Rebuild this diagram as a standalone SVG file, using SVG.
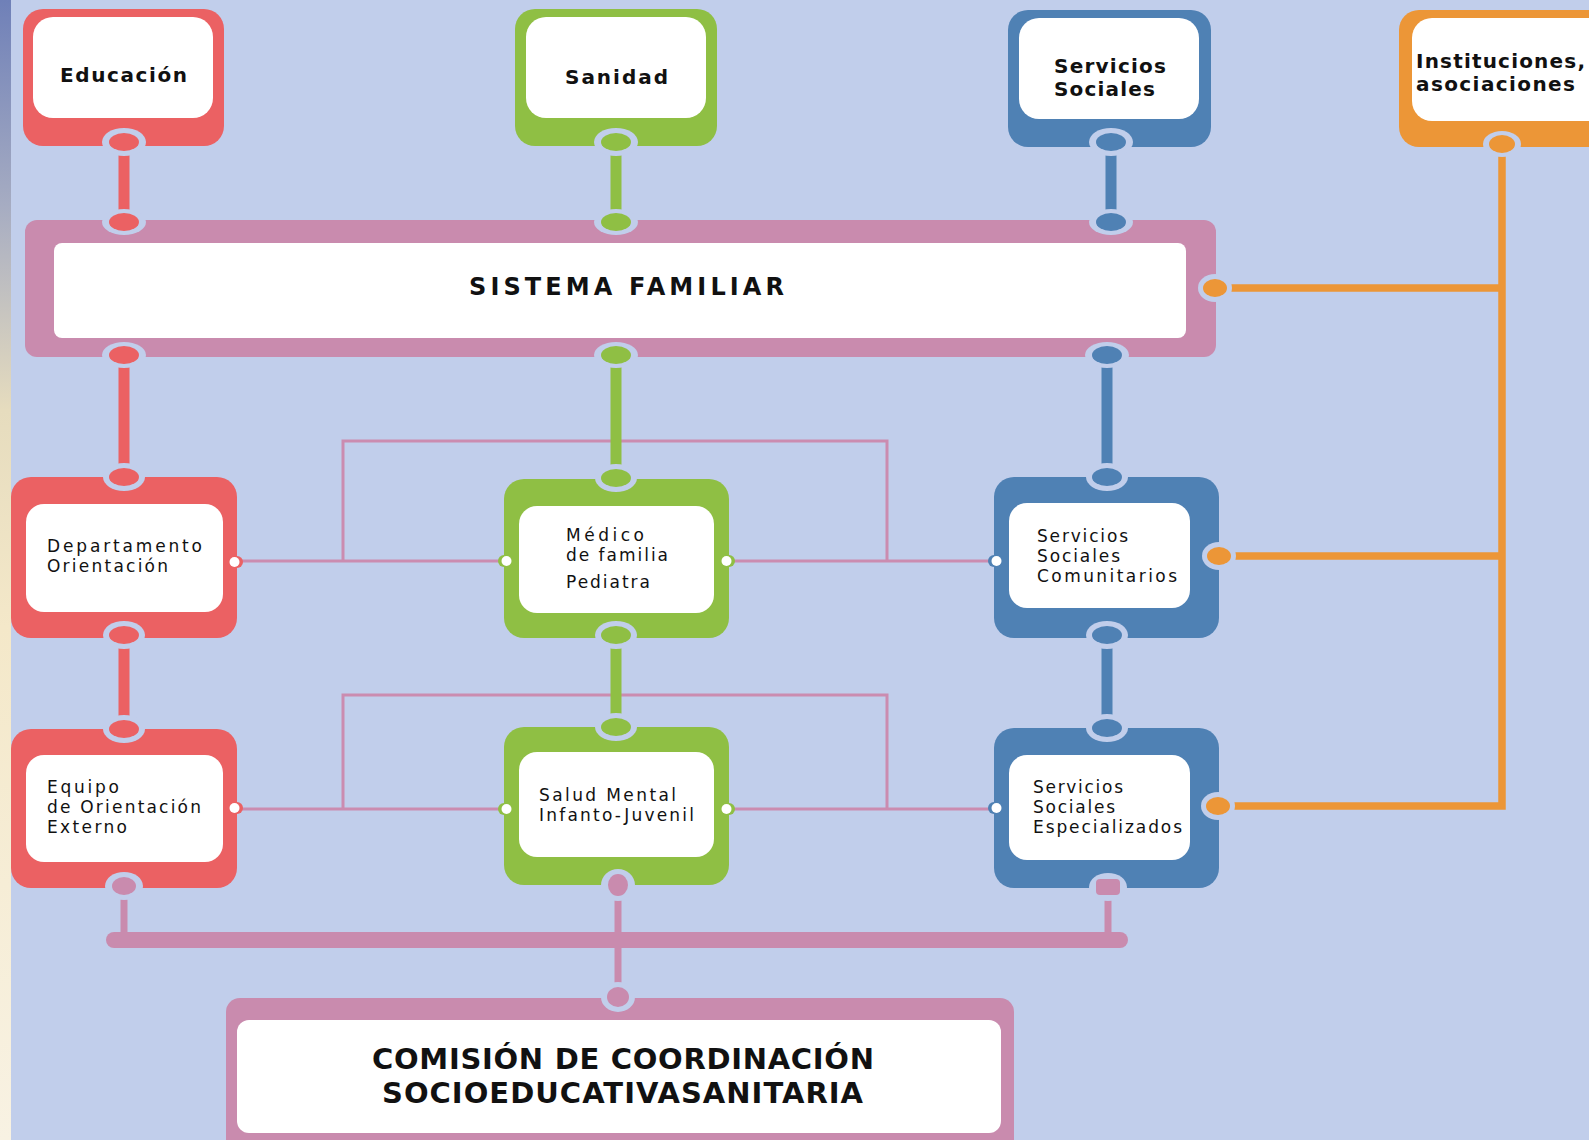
<svg xmlns="http://www.w3.org/2000/svg" width="1589" height="1140" viewBox="0 0 1589 1140">
<defs>
<linearGradient id="strip" x1="0" y1="0" x2="0" y2="1">
<stop offset="0" stop-color="#6F80B8"/>
<stop offset="0.18" stop-color="#A6ACC2"/>
<stop offset="0.36" stop-color="#E6DCBE"/>
<stop offset="0.55" stop-color="#F4E8C9"/>
<stop offset="1" stop-color="#F8F2E3"/>
</linearGradient>
<style>
.red{fill:#EB6163}.grn{fill:#8FBF44}.blu{fill:#4F81B4}.org{fill:#EC9637}.pnk{fill:#C98BAE}.wht{fill:#FFFFFF}.halo{fill:#C1CEEB}
.lr{stroke:#EB6163;stroke-width:11;fill:none}
.lg{stroke:#8FBF44;stroke-width:11;fill:none}
.lb{stroke:#4F81B4;stroke-width:11;fill:none}
.lo{stroke:#EC9637;stroke-width:7.5;fill:none}
.lp{stroke:#C98BAE;stroke-width:7;fill:none}
.thin{stroke:#CB8CB0;stroke-width:3;fill:none}
.hb{font-family:"DejaVu Sans","Liberation Sans",sans-serif;font-weight:700;font-size:20px;fill:#111111}
.hs{font-family:"DejaVu Sans","Liberation Sans",sans-serif;font-weight:700;font-size:24px;fill:#111111}
.hc{font-family:"DejaVu Sans","Liberation Sans",sans-serif;font-weight:700;font-size:29px;fill:#111111}
.tx{font-family:"DejaVu Sans","Liberation Sans",sans-serif;font-size:17px;fill:#111111}
</style>
</defs>
<rect x="0" y="0" width="1589" height="1140" class="halo"/>
<rect x="0" y="0" width="11" height="1140" fill="url(#strip)"/>

<g id="educacion">
<rect x="23" y="9" width="201" height="137" rx="20" class="red"/>
<rect x="33" y="17" width="180" height="101" rx="20" class="wht"/>
<text x="60" y="82" class="hb" textLength="127" lengthAdjust="spacing">Educación</text>
</g>
<g id="sanidad">
<rect x="515" y="9" width="202" height="137" rx="20" class="grn"/>
<rect x="526" y="17" width="180" height="101" rx="20" class="wht"/>
<text x="565" y="84" class="hb" textLength="103" lengthAdjust="spacing">Sanidad</text>
</g>
<g id="servicios-sociales">
<rect x="1008" y="10" width="203" height="137" rx="20" class="blu"/>
<rect x="1019" y="18" width="180" height="101" rx="20" class="wht"/>
<text x="1054" y="73" class="hb" textLength="112" lengthAdjust="spacing">Servicios</text>
<text x="1054" y="96" class="hb" textLength="101" lengthAdjust="spacing">Sociales</text>
</g>
<g id="instituciones">
<rect x="1399" y="10" width="215" height="137" rx="20" class="org"/>
<rect x="1412" y="18" width="200" height="103" rx="20" class="wht"/>
<text x="1416" y="68" class="hb" font-size="19" textLength="169" lengthAdjust="spacing">Instituciones,</text>
<text x="1416" y="91" class="hb" font-size="19" textLength="159" lengthAdjust="spacing">asociaciones</text>
</g>
<g id="sistema-familiar">
<rect x="25" y="220" width="1191" height="137" rx="12" class="pnk"/>
<rect x="54" y="243" width="1132" height="95" rx="8" class="wht"/>
<text x="469" y="295" class="hs" textLength="315" lengthAdjust="spacing">SISTEMA FAMILIAR</text>
</g>
<g id="departamento-orientacion">
<rect x="11" y="477" width="226" height="161" rx="20" class="red"/>
<rect x="26" y="504" width="197" height="108" rx="18" class="wht"/>
<text x="47" y="552" class="tx" textLength="155" lengthAdjust="spacing">Departamento</text>
<text x="47" y="572" class="tx" textLength="121" lengthAdjust="spacing">Orientación</text>
</g>
<g id="medico-familia">
<rect x="504" y="479" width="225" height="159" rx="20" class="grn"/>
<rect x="519" y="506" width="195" height="107" rx="18" class="wht"/>
<text x="566" y="541" class="tx" textLength="78" lengthAdjust="spacing">Médico</text>
<text x="566" y="561" class="tx" textLength="102" lengthAdjust="spacing">de familia</text>
<text x="566" y="588" class="tx" textLength="84" lengthAdjust="spacing">Pediatra</text>
</g>
<g id="ss-comunitarios">
<rect x="994" y="477" width="225" height="161" rx="20" class="blu"/>
<rect x="1009" y="503" width="181" height="105" rx="18" class="wht"/>
<text x="1037" y="542" class="tx" textLength="91" lengthAdjust="spacing">Servicios</text>
<text x="1037" y="562" class="tx" textLength="83" lengthAdjust="spacing">Sociales</text>
<text x="1037" y="582" class="tx" textLength="140" lengthAdjust="spacing">Comunitarios</text>
</g>
<g id="equipo-orientacion">
<rect x="11" y="729" width="226" height="159" rx="20" class="red"/>
<rect x="26" y="755" width="197" height="107" rx="18" class="wht"/>
<text x="47" y="793" class="tx" textLength="72" lengthAdjust="spacing">Equipo</text>
<text x="47" y="813" class="tx" textLength="154" lengthAdjust="spacing">de Orientación</text>
<text x="47" y="833" class="tx" textLength="80" lengthAdjust="spacing">Externo</text>
</g>
<g id="salud-mental">
<rect x="504" y="727" width="225" height="158" rx="20" class="grn"/>
<rect x="519" y="752" width="195" height="105" rx="18" class="wht"/>
<text x="539" y="801" class="tx" textLength="137" lengthAdjust="spacing">Salud Mental</text>
<text x="539" y="821" class="tx" textLength="155" lengthAdjust="spacing">Infanto-Juvenil</text>
</g>
<g id="ss-especializados">
<rect x="994" y="728" width="225" height="160" rx="20" class="blu"/>
<rect x="1009" y="755" width="181" height="105" rx="18" class="wht"/>
<text x="1033" y="793" class="tx" textLength="90" lengthAdjust="spacing">Servicios</text>
<text x="1033" y="813" class="tx" textLength="82" lengthAdjust="spacing">Sociales</text>
<text x="1033" y="833" class="tx" textLength="149" lengthAdjust="spacing">Especializados</text>
</g>
<g id="comision">
<rect x="226" y="998" width="788" height="160" rx="14" class="pnk"/>
<rect x="237" y="1020" width="764" height="113" rx="12" class="wht"/>
<text x="372" y="1069" class="hc" textLength="502" lengthAdjust="spacing">COMISIÓN DE COORDINACIÓN</text>
<text x="382" y="1103" class="hc" textLength="481" lengthAdjust="spacing">SOCIOEDUCATIVASANITARIA</text>
</g>

<g id="connectors">
<path class="thin" d="M237 561H504M729 561H994M343 561V441H887V561"/>
<path class="thin" d="M237 809H504M729 809H994M343 809V695H887V809"/>
<path class="lo" d="M1502 144V806H1218M1215 288H1502M1219 556H1502"/>
<path class="lr" d="M124 142V222M124 355V477M124 635V729"/>
<path class="lg" d="M616 142V222M616 355V478M616 635V727"/>
<path class="lb" d="M1111 142V222M1107 355V477M1107 635V728"/>
<path class="lp" d="M124 886V936M618 885V936M1108 887V936M618 944V998"/>
<rect x="106" y="932" width="1022" height="16" rx="8" class="pnk"/>

<g class="halo">
<ellipse cx="124" cy="142" rx="22" ry="14"/><ellipse cx="616" cy="142" rx="22" ry="14"/><ellipse cx="1111" cy="142" rx="22" ry="14"/><ellipse cx="1502" cy="144" rx="19" ry="13"/>
<ellipse cx="124" cy="222" rx="22" ry="13"/><ellipse cx="616" cy="222" rx="22" ry="13"/><ellipse cx="1111" cy="222" rx="22" ry="13"/>
<ellipse cx="124" cy="355" rx="22" ry="13"/><ellipse cx="616" cy="355" rx="22" ry="13"/><ellipse cx="1107" cy="355" rx="22" ry="13"/>
<ellipse cx="124" cy="477" rx="21" ry="14"/><ellipse cx="616" cy="478" rx="21" ry="14"/><ellipse cx="1107" cy="477" rx="21" ry="14"/>
<ellipse cx="124" cy="635" rx="21" ry="14"/><ellipse cx="616" cy="635" rx="21" ry="14"/><ellipse cx="1107" cy="635" rx="21" ry="14"/>
<ellipse cx="124" cy="729" rx="21" ry="14"/><ellipse cx="616" cy="727" rx="21" ry="14"/><ellipse cx="1107" cy="728" rx="21" ry="14"/>
<ellipse cx="124" cy="886" rx="19" ry="14"/><ellipse cx="618" cy="885" rx="17" ry="16"/><ellipse cx="1108" cy="887" rx="19" ry="14"/>
<ellipse cx="618" cy="997" rx="17" ry="15"/>
<ellipse cx="1215" cy="288" rx="17" ry="14"/><ellipse cx="1219" cy="556" rx="17" ry="14"/><ellipse cx="1218" cy="806" rx="17" ry="14"/>
</g>
<g class="red"><ellipse cx="124" cy="142" rx="15" ry="9"/><ellipse cx="124" cy="222" rx="15" ry="9"/><ellipse cx="124" cy="355" rx="15" ry="9"/><ellipse cx="124" cy="477" rx="15" ry="9"/><ellipse cx="124" cy="635" rx="15" ry="9"/><ellipse cx="124" cy="729" rx="15" ry="9"/></g>
<g class="grn"><ellipse cx="616" cy="142" rx="15" ry="9"/><ellipse cx="616" cy="222" rx="15" ry="9"/><ellipse cx="616" cy="355" rx="15" ry="9"/><ellipse cx="616" cy="478" rx="15" ry="9"/><ellipse cx="616" cy="635" rx="15" ry="9"/><ellipse cx="616" cy="727" rx="15" ry="9"/></g>
<g class="blu"><ellipse cx="1111" cy="142" rx="15" ry="9"/><ellipse cx="1111" cy="222" rx="15" ry="9"/><ellipse cx="1107" cy="355" rx="15" ry="9"/><ellipse cx="1107" cy="477" rx="15" ry="9"/><ellipse cx="1107" cy="635" rx="15" ry="9"/><ellipse cx="1107" cy="728" rx="15" ry="9"/></g>
<g class="org"><ellipse cx="1502" cy="144" rx="13" ry="9"/><ellipse cx="1215" cy="288" rx="12" ry="9"/><ellipse cx="1219" cy="556" rx="12" ry="9"/><ellipse cx="1218" cy="806" rx="12" ry="9"/></g>
<g class="pnk"><ellipse cx="124" cy="886" rx="12" ry="9"/><ellipse cx="618" cy="885" rx="10" ry="11"/><rect x="1096" y="879" width="24" height="16" rx="4"/><ellipse cx="618" cy="997" rx="11" ry="10"/></g>
<circle cx="237" cy="562" r="6" class="red"/><circle cx="234.5" cy="562" r="5" class="wht"/>
<circle cx="504" cy="561" r="6" class="grn"/><circle cx="506.5" cy="561" r="5" class="wht"/>
<circle cx="729" cy="561" r="6" class="grn"/><circle cx="726.5" cy="561" r="5" class="wht"/>
<circle cx="994" cy="561" r="6" class="blu"/><circle cx="996.5" cy="561" r="5" class="wht"/>
<circle cx="237" cy="808" r="6" class="red"/><circle cx="234.5" cy="808" r="5" class="wht"/>
<circle cx="504" cy="809" r="6" class="grn"/><circle cx="506.5" cy="809" r="5" class="wht"/>
<circle cx="729" cy="809" r="6" class="grn"/><circle cx="726.5" cy="809" r="5" class="wht"/>
<circle cx="994" cy="808" r="6" class="blu"/><circle cx="996.5" cy="808" r="5" class="wht"/>
</g>
</svg>
